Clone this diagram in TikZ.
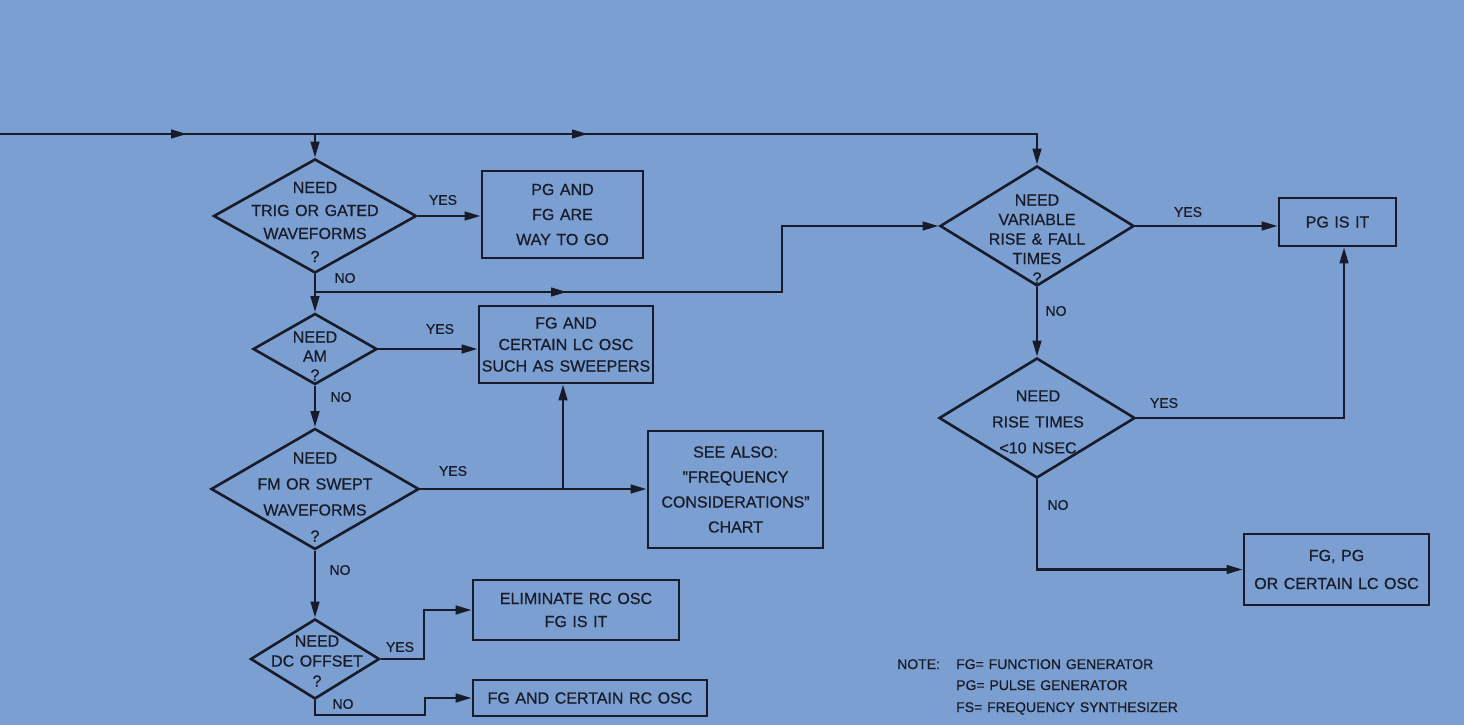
\documentclass[tikz,border=0pt]{standalone}
\usepackage{fontspec}
\setmainfont[WordSpace=1.25,FakeBold=0.6]{Liberation Sans}
\usetikzlibrary{shapes.geometric,arrows.meta,decorations.markings,calc}
\definecolor{bg}{RGB}{123,159,208}
\definecolor{ink}{RGB}{24,27,42}
\begin{document}
\begin{tikzpicture}[x=1pt,y=-1pt,color=ink,
  >={Triangle[length=16pt,width=8.5pt]},
  ln/.style={draw=ink,line width=2.6pt},
  midarr/.style={postaction={decorate,decoration={markings,mark=at position #1 with {\arrow{>}}}}},
  dia/.style={diamond,draw=ink,line width=2.6pt,inner sep=0pt},
  box/.style={rectangle,draw=ink,line width=2.6pt,inner sep=0pt,align=center},
  lsk/.style={font=\fontsize{16}{#1}\selectfont,align=center,inner sep=0pt},
  lab/.style={font=\fontsize{14}{16}\selectfont,inner sep=0pt},
  note/.style={font=\fontsize{14}{16}\selectfont,inner sep=0pt}
]
\fill[bg] (0,0) rectangle (1464,725);
\useasboundingbox (0,0) rectangle (1464,725);

% decision diamonds
\node[dia,minimum width=203,minimum height=114] (d1) at (315,216) {};
\node[lsk=23] (d1t) at (315,222) {NEED\\TRIG OR GATED\\WAVEFORMS\\?};
\node[dia,minimum width=124,minimum height=71] (d2) at (315,349) {};
\node[lsk=19] (d2t) at (315,356) {NEED\\AM\\?};
\node[dia,minimum width=208,minimum height=121] (d3) at (315,489) {};
\node[lsk=26] (d3t) at (315,497) {NEED\\FM OR SWEPT\\WAVEFORMS\\?};
\node[dia,minimum width=129,minimum height=80] (d4) at (315,659) {};
\node[lsk=20] (d4t) at (317,661) {NEED\\DC OFFSET\\?};
\node[dia,minimum width=194,minimum height=120] (d5) at (1037,226) {};
\node[lsk=19.5] (d5t) at (1037,239) {NEED\\VARIABLE\\RISE \& FALL\\TIMES\\?};
\node[dia,minimum width=196,minimum height=120] (d6) at (1037,418) {};
\node[lsk=26] (d6t) at (1038,422) {NEED\\RISE TIMES\\<10 NSEC};

% result boxes
\node[box,lsk=25,minimum width=161,minimum height=87] (b1) at (562.5,214.5) {PG AND\\FG ARE\\WAY TO GO};
\node[box,lsk=21.5,minimum width=174,minimum height=77] (b2) at (566,344.5) {FG AND\\CERTAIN LC OSC\\SUCH AS SWEEPERS};
\node[box,lsk=25,minimum width=175,minimum height=117] (b3) at (735.5,489.5) {SEE ALSO:\\"FREQUENCY\\CONSIDERATIONS"\\CHART};
\node[box,lsk=23,minimum width=206,minimum height=60] (b4) at (576,610) {ELIMINATE RC OSC\\FG IS IT};
\node[box,lsk=20,minimum width=234,minimum height=36] (b5) at (590,698) {FG AND CERTAIN RC OSC};
\node[box,lsk=20,minimum width=117,minimum height=48] (b6) at (1337.5,222) {PG IS IT};
\node[box,lsk=28,minimum width=185,minimum height=71] (b7) at (1336.5,569.5) {FG, PG\\OR CERTAIN LC OSC};

% connectors
\coordinate (in) at (0,134);
\coordinate (tl) at (1037,134);
\draw[ln,->,midarr=187pt,midarr=588pt] (in) -- (tl) -- (d5.north);
\draw[ln,->] (d1.north |- in) -- (d1.north);
\draw[ln,->] (d1.east) -- (d1.east -| b1.west);
\coordinate (j1) at (315,292);
\coordinate (k1) at (782,292);
\draw[ln] (d1.south) -- (j1);
\draw[ln,->] (j1) -- (d2.north);
\draw[ln,->,midarr=252pt] (j1) -- (k1) -- (k1 |- d5.west) -- (d5.west);
\draw[ln,->] (d2.east) -- (d2.east -| b2.west);
\draw[ln,->] (d2.south) -- (d3.north);
\draw[ln,->] (d3.east) -- (d3.east -| b3.west);
\coordinate (j2) at (563,489);
\draw[ln,->] (j2) -- (j2 |- b2.south);
\draw[ln,->] (d3.south) -- (d4.north);
\coordinate (k3) at (424,610);
\draw[ln,->] (d4.east) -- (d4.east -| k3) -- (k3) -- (b4.west);
\coordinate (k4) at (425,715);
\draw[ln,->] (d4.south) -- (d4.south |- k4) -- (k4) -- (k4 |- b5.west) -- (b5.west);
\draw[ln,->] (d5.east) -- (d5.east -| b6.west);
\draw[ln,->] (d5.south) -- (d6.north);
\coordinate (k5) at (1344,418);
\draw[ln,->] (d6.east) -- (k5) -- (k5 |- b6.south);
\draw[ln,->] (d6.south) -- (d6.south |- b7.west) -- (b7.west);

% branch labels
\node[lab] (y1) at (443,200) {YES};
\node[lab] (n1) at (345,278) {NO};
\node[lab] (y2) at (440,329) {YES};
\node[lab] (n2) at (341,397) {NO};
\node[lab] (y3) at (453,471) {YES};
\node[lab] (n3) at (340,570) {NO};
\node[lab] (y4) at (400,647) {YES};
\node[lab] (n4) at (343,704) {NO};
\node[lab] (y5) at (1188,212) {YES};
\node[lab] (n5) at (1056,311) {NO};
\node[lab] (y6) at (1164,403) {YES};
\node[lab] (n6) at (1058,505) {NO};

% note
\node[note,anchor=base west] (nt) at (897,669) {NOTE:};
\node[note,anchor=base west] (nl1) at (956,669) {FG= FUNCTION GENERATOR};
\node[note,anchor=base west] (nl2) at (956,690) {PG= PULSE GENERATOR};
\node[note,anchor=base west] (nl3) at (956,712) {FS= FREQUENCY SYNTHESIZER};
\end{tikzpicture}
\end{document}
